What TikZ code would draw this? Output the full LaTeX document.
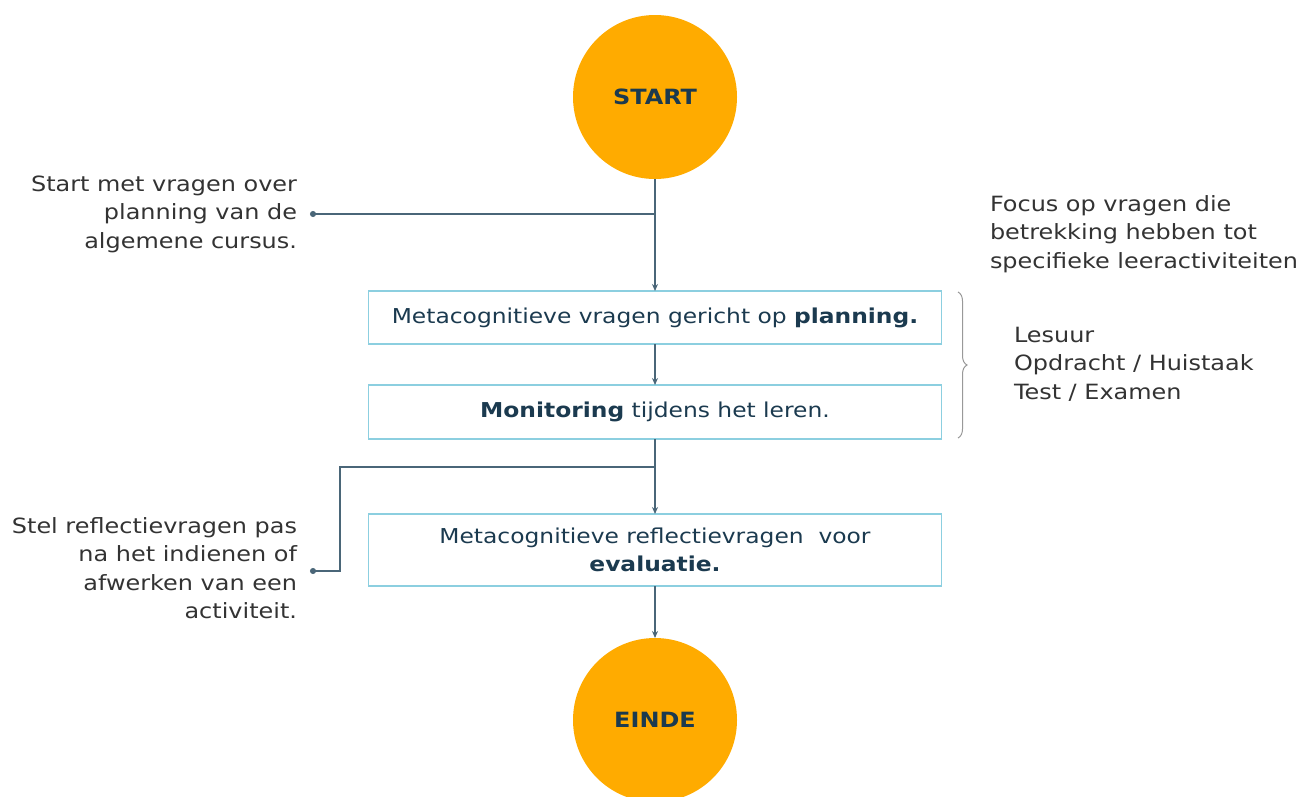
\documentclass[tikz,border=0pt]{standalone}
\usepackage{fontspec}
\setmainfont{DejaVu Sans}[FakeStretch=1.14]
\usetikzlibrary{arrows.meta,decorations.pathreplacing}
\definecolor{circfill}{HTML}{FFAB00}
\definecolor{navy}{HTML}{1B3A4F}
\definecolor{boxline}{HTML}{8CCFE0}
\definecolor{conn}{HTML}{4A6678}
\definecolor{gtext}{HTML}{333333}
\begin{document}
\begin{tikzpicture}[x=1pt,y=-1pt,
  every node/.style={inner sep=0pt,outer sep=0pt},
  endcirc/.style={circle,fill=circfill,minimum size=164pt,font=\fontsize{21}{24}\selectfont\bfseries,text=navy},
  stepbox/.style={draw=boxline,line width=1.4pt,minimum width=573pt,text=navy,align=center,font=\fontsize{20.5}{28}\selectfont},
  conn/.style={draw=conn,line width=1.1pt},
  arr/.style={conn,-{Stealth[length=7pt,width=6pt]}},
  sidetext/.style={text=gtext,font=\fontsize{21}{28.5}\selectfont},
  dotend/.style={{Circle[length=6pt]}-}
]
\useasboundingbox (0,0) rectangle (1298,796);
\node[endcirc] (start) at (655,97) {START};
\node[endcirc] (einde) at (655,720) {EINDE};
\node[stepbox,minimum height=53pt] (b1) at (655,317.5) {Metacognitieve vragen gericht op \textbf{planning.}};
\node[stepbox,minimum height=54pt] (b2) at (655,412) {\textbf{Monitoring} tijdens het leren.};
\node[stepbox,minimum height=72pt] (b3) at (655,550) {Metacognitieve reflectievragen\ \ voor\\\textbf{evaluatie.}};

\node[sidetext,align=right,anchor=east] (t1) at (297,214) {Start met vragen over\\planning van de\\algemene cursus.};
\node[sidetext,align=right,anchor=east] (t2) at (297,568) {Stel reflectievragen pas\\na het indienen of\\afwerken van een\\activiteit.};
\node[sidetext,align=left,anchor=west] (t3) at (990,234) {Focus op vragen die\\betrekking hebben tot\\specifieke leeractiviteiten};
\node[sidetext,align=left,anchor=west] (t4) at (1014,364) {Lesuur\\Opdracht / Huistaak\\Test / Examen};

\coordinate (d1) at (310,214);
\coordinate (j1) at (655,214);
\coordinate (d2) at (310,571);
\coordinate (j2) at (655,467);

\draw[arr] (start.south) -- (b1.north);
\draw[conn,dotend] (d1) -- (j1);
\draw[arr] (b1.south) -- (b2.north);
\draw[arr] (b2.south) -- (b3.north);
\draw[conn,dotend] (d2) -- (340,571) -- (340,467) -- (j2);
\draw[arr] (b3.south) -- (einde.north);

\draw[draw=gray!80,line width=1pt,decorate,decoration={brace,amplitude=9pt}] (958,292) -- (958,438);
\end{tikzpicture}
\end{document}
